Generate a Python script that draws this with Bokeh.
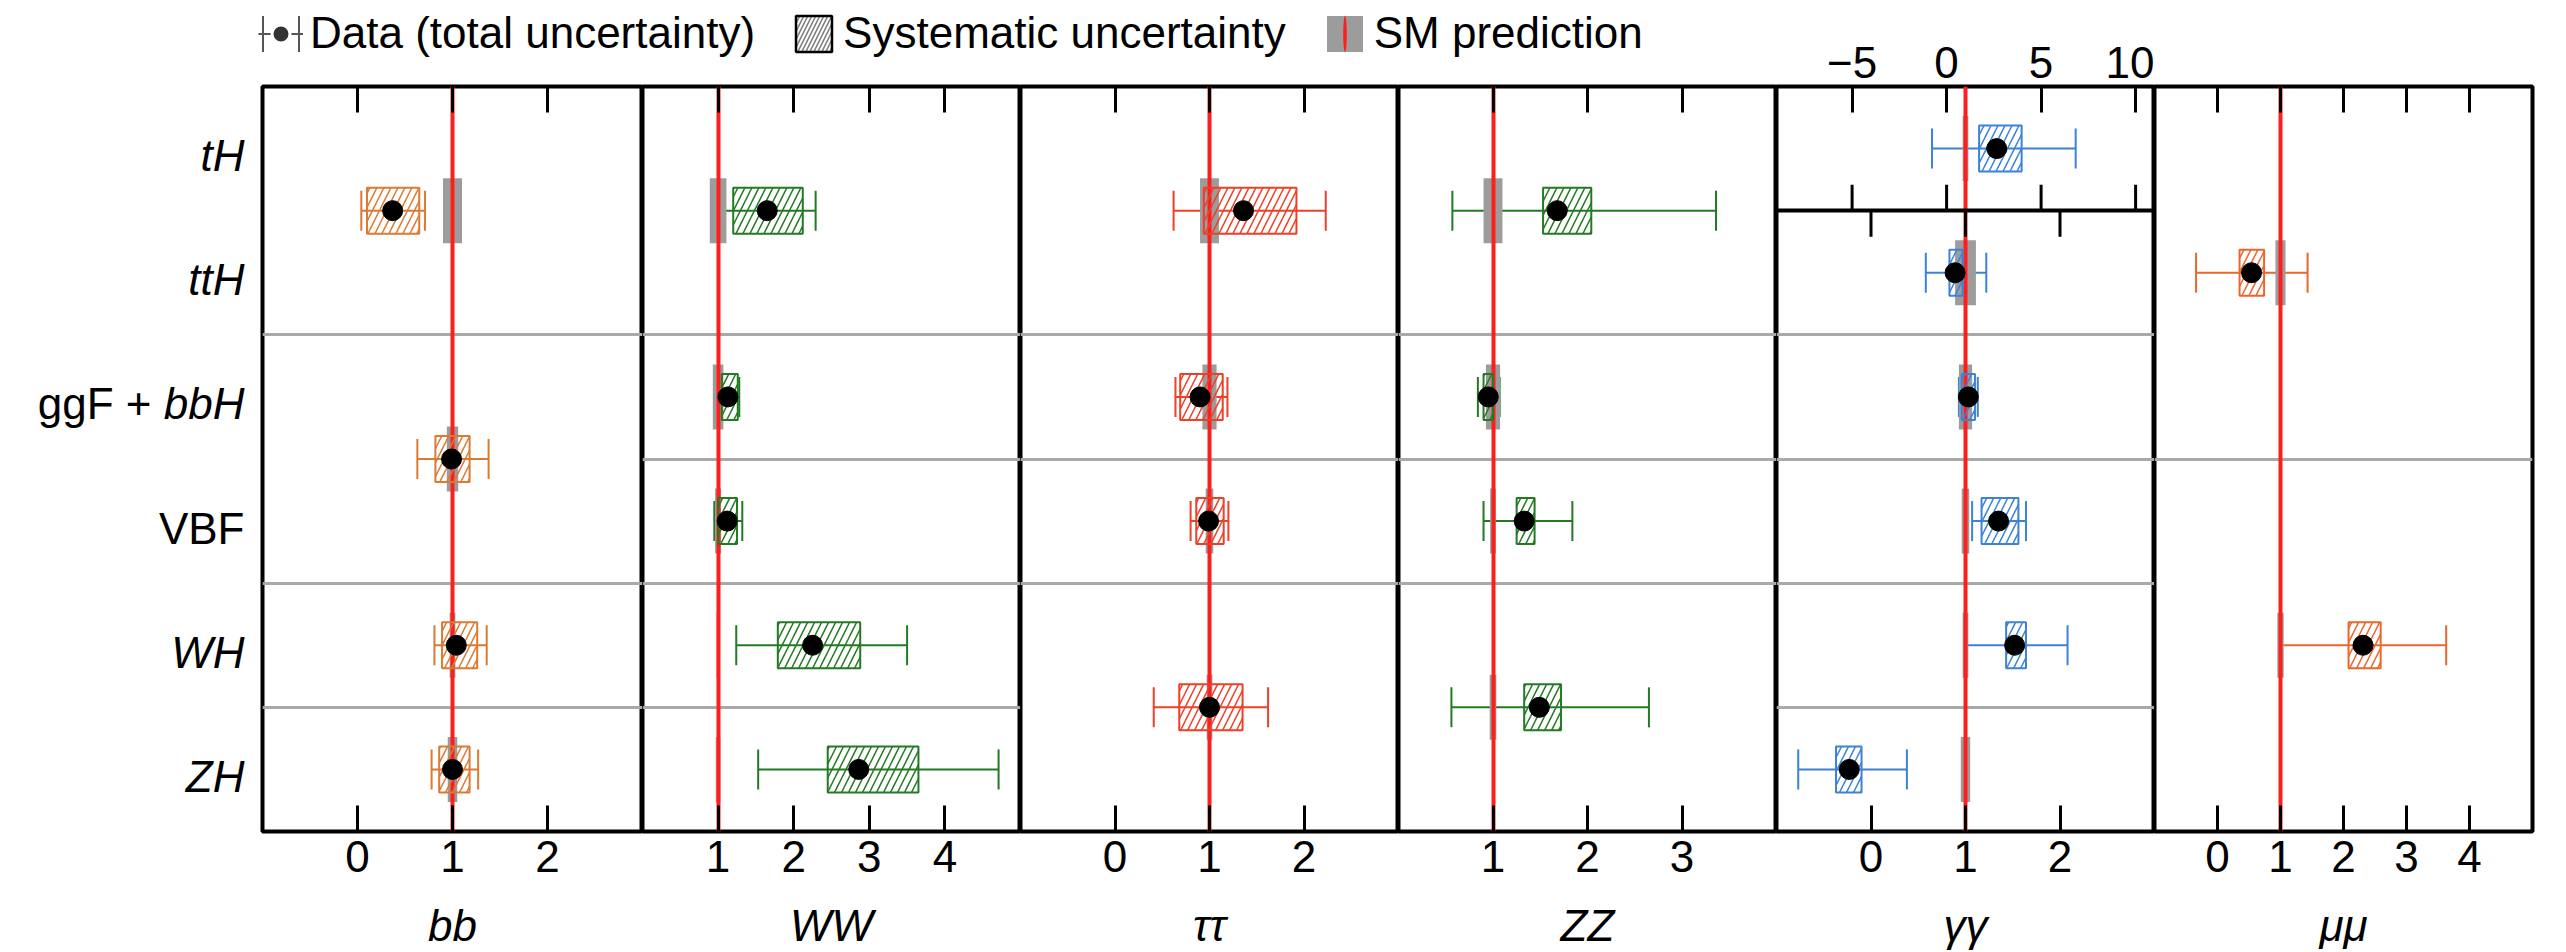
import math
from bokeh.plotting import figure
from bokeh.models import (ColumnDataSource, Range1d, FixedTicker, LinearAxis,
                          Legend, LegendItem)
from bokeh.layouts import row, column
from bokeh.embed import file_html
from bokeh.resources import INLINE
from bokeh.core.properties import value

# ---------------- data ----------------
ROWS = ["ZH", "WH", "VBF", "ggF+bbH", "ttH", "tH"]          # bottom -> top
ROW_LABEL_PARTS = [[("ZH", "italic")], [("WH", "italic")], [("VBF", "normal")],
                   [("ggF +", "normal"), ("bbH", "italic")],
                   [("ttH", "italic")], [("tH", "italic")]]
SM_MU = 1.0

BB_TITLE = "bb"
BB_RANGE = (-1, 3)
BB_TICKS = [0, 1, 2]
BB_GROUPS = [["tH", "ttH"], ["ggF+bbH", "VBF"], ["WH"], ["ZH"]]
BB_MU = [0.37, 0.99, 1.04, 1.00]
BB_TOT_DN = [0.33, 0.36, 0.23, 0.22]
BB_TOT_UP = [0.34, 0.39, 0.32, 0.27]
BB_SYS_DN = [0.27, 0.17, 0.15, 0.14]
BB_SYS_UP = [0.28, 0.19, 0.22, 0.18]
BB_SM_UNC = [0.10, 0.06, 0.03, 0.05]

WW_TITLE = "WW"
WW_RANGE = (0, 5)
WW_TICKS = [1, 2, 3, 4]
WW_GROUPS = [["tH", "ttH"], ["ggF+bbH"], ["VBF"], ["WH"], ["ZH"]]
WW_MU = [1.65, 1.13, 1.12, 2.25, 2.86]
WW_TOT_DN = [0.65, 0.11, 0.17, 1.01, 1.33]
WW_TOT_UP = [0.64, 0.15, 0.20, 1.25, 1.85]
WW_SYS_DN = [0.45, 0.08, 0.12, 0.46, 0.41]
WW_SYS_UP = [0.47, 0.13, 0.13, 0.63, 0.79]
WW_SM_UNC = [0.11, 0.07, 0.04, 0.02, 0.03]

TT_TITLE = "ττ"
TT_RANGE = (-1, 3)
TT_TICKS = [0, 1, 2]
TT_GROUPS = [["tH", "ttH"], ["ggF+bbH"], ["VBF"], ["WH", "ZH"]]
TT_MU = [1.36, 0.90, 0.99, 1.00]
TT_TOT_DN = [0.74, 0.26, 0.19, 0.59]
TT_TOT_UP = [0.87, 0.29, 0.21, 0.62]
TT_SYS_DN = [0.42, 0.21, 0.13, 0.32]
TT_SYS_UP = [0.56, 0.24, 0.16, 0.35]
TT_SM_UNC = [0.10, 0.075, 0.04, 0.03]

ZZ_TITLE = "ZZ"
ZZ_RANGE = (0, 4)
ZZ_TICKS = [1, 2, 3]
ZZ_GROUPS = [["tH", "ttH"], ["ggF+bbH"], ["VBF"], ["WH", "ZH"]]
ZZ_MU = [1.68, 0.95, 1.33, 1.49]
ZZ_TOT_DN = [1.11, 0.11, 0.43, 0.93]
ZZ_TOT_UP = [1.68, 0.12, 0.51, 1.16]
ZZ_SYS_DN = [0.15, 0.05, 0.08, 0.16]
ZZ_SYS_UP = [0.36, 0.05, 0.11, 0.23]
ZZ_SM_UNC = [0.10, 0.075, 0.03, 0.035]

GG_TITLE = "γγ"
GG_RANGE = (-1, 3)
GG_TICKS = [0, 1, 2]
GG_GROUPS = [["ttH"], ["ggF+bbH"], ["VBF"], ["WH"], ["ZH"]]
GG_MU = [0.89, 1.03, 1.35, 1.52, -0.23]
GG_TOT_DN = [0.31, 0.10, 0.28, 0.51, 0.54]
GG_TOT_UP = [0.33, 0.10, 0.29, 0.56, 0.61]
GG_SYS_DN = [0.06, 0.07, 0.18, 0.09, 0.14]
GG_SYS_UP = [0.08, 0.07, 0.21, 0.12, 0.13]
GG_SM_UNC = [0.11, 0.07, 0.04, 0.03, 0.05]
# tH row of the diphoton panel, on its own wider scale
GG_TH_RANGE = (-9, 11)
GG_TH_TICKS = [-5, 0, 5, 10]
GG_TH_GROUPS = [["tH"]]
GG_TH_MU = [2.65]
GG_TH_TOT_DN = [3.42]
GG_TH_TOT_UP = [4.18]
GG_TH_SYS_DN = [0.93]
GG_TH_SYS_UP = [1.32]
GG_TH_SM_UNC = [0.15]

MM_TITLE = "μμ"
MM_RANGE = (-1, 5)
MM_TICKS = [0, 1, 2, 3, 4]
MM_GROUPS = [["tH", "ttH", "ggF+bbH"], ["VBF", "WH", "ZH"]]
MM_MU = [0.54, 2.31]
MM_TOT_DN = [0.88, 1.30]
MM_TOT_UP = [0.89, 1.32]
MM_SYS_DN = [0.19, 0.23]
MM_SYS_UP = [0.20, 0.28]
MM_SM_UNC = [0.08, 0.05]

LEGEND_LABELS = ["Data (total uncertainty)", "Systematic uncertainty", "SM prediction"]

# ---------------- style ----------------
FONT = "Liberation Sans"
FS = "44px"
BB_COLOR = "#DA7A33"
WW_COLOR = "#237A23"
TT_COLOR = "#EC4128"
ZZ_COLOR = "#237A23"
GG_COLOR = "#3C82D6"
MM_COLOR = "#E9672C"
SM_RED = "#FF1E1E"
SM_GRAY = "#9C9C9C"
SEP_GRAY = "#A9A9A9"

H = 952
LEG_H = 62
TOP = 86
BOTTOM = 121
LABEL_W = 260
RIGHT = 34
FRAME_W = 378
BB_FRAME_W = 380
FRAME_H = H - TOP - BOTTOM
ROW_PX = FRAME_H / len(ROWS)
BOX_HALF = 23 / ROW_PX
BAR_HALF = 32.5 / ROW_PX
TICK_LEN = 26 / ROW_PX


def group_rows(groups):
    ys, bounds = [], set()
    for g in groups:
        idx = [ROWS.index(r) for r in g]
        lo, hi = min(idx), max(idx) + 1
        ys.append((lo + hi) / 2)
        if lo > 0:
            bounds.add(lo)
        if hi < len(ROWS):
            bounds.add(hi)
    return ys, sorted(bounds)


def make_source(groups, mu, tdn, tup, sdn, sup, smu):
    ys, _ = group_rows(groups)
    return ColumnDataSource(dict(
        y=ys, mu=mu,
        tlo=[m - d for m, d in zip(mu, tdn)], thi=[m + u for m, u in zip(mu, tup)],
        slo=[m - d for m, d in zip(mu, sdn)], shi=[m + u for m, u in zip(mu, sup)],
        smlo=[SM_MU - u for u in smu], smhi=[SM_MU + u for u in smu],
        bar0=[y - BAR_HALF for y in ys], bar1=[y + BAR_HALF for y in ys],
        box0=[y - BOX_HALF for y in ys], box1=[y + BOX_HALF for y in ys]))


def draw_under(p, src, color, rng="default"):
    p.segment(x0="tlo", y0="y", x1="thi", y1="y", source=src, line_color=color,
              line_width=2, x_range_name=rng)
    for col in ("tlo", "thi"):
        p.scatter(x=col, y="y", source=src, marker="dash", angle=math.pi / 2, size=40,
                  line_color=color, line_width=2, x_range_name=rng)
    p.quad(left="smlo", right="smhi", bottom="bar0", top="bar1", source=src,
           fill_color=SM_GRAY, line_color=None, x_range_name=rng)


def draw_over(p, src, color, rng="default"):
    p.quad(left="slo", right="shi", bottom="box0", top="box1", source=src,
           fill_color=None, line_color=color, line_width=2, hatch_pattern="/",
           hatch_color=color, hatch_scale=14, hatch_weight=1.5, x_range_name=rng)
    p.scatter(x="mu", y="y", source=src, marker="circle", size=20,
              fill_color="black", line_color="black", x_range_name=rng)


def style_axis(ax, ticks, show_labels=True):
    ax.ticker = FixedTicker(ticks=ticks)
    ax.major_tick_in = 26
    ax.major_tick_out = 0
    ax.major_tick_line_width = 3
    ax.major_tick_line_color = "black"
    ax.minor_tick_line_color = None
    ax.axis_line_color = None
    ax.major_label_text_font = FONT
    if show_labels:
        ax.major_label_text_font_size = FS
        ax.major_label_text_color = "black"
        ax.major_label_standoff = 9
    else:
        ax.major_label_text_font_size = "1px"
        ax.major_label_text_color = None
        ax.major_label_standoff = 0


def make_panel(title, xrange, ticks, width, height, border_top, border_left=0,
               border_right=0, mirror_top=True):
    p = figure(width=width, height=height, x_range=Range1d(*xrange),
               y_range=Range1d(0, len(ROWS)), output_backend="svg",
               toolbar_location=None, y_axis_location=None,
               min_border_left=border_left, min_border_right=border_right,
               min_border_top=border_top, min_border_bottom=BOTTOM)
    p.grid.visible = False
    p.outline_line_color = "black"
    p.outline_line_width = 4
    p.background_fill_color = "white"
    p.border_fill_color = "white"
    ax = p.xaxis[0]
    style_axis(ax, ticks)
    ax.axis_label = title
    ax.axis_label_text_font = FONT
    ax.axis_label_text_font_size = FS
    ax.axis_label_text_font_style = "italic"
    ax.axis_label_text_color = "black"
    ax.axis_label_standoff = 26
    if mirror_top:
        top = LinearAxis()
        style_axis(top, ticks, show_labels=False)
        p.add_layout(top, "above")
    return p


def standard_panel(p, groups, mu, tdn, tup, sdn, sup, smu, color):
    _, bounds = group_rows(groups)
    p.hspan(y=bounds, line_color=SEP_GRAY, line_width=3)
    src = make_source(groups, mu, tdn, tup, sdn, sup, smu)
    draw_under(p, src, color)
    p.vspan(x=[SM_MU], line_color=SM_RED, line_width=4)
    draw_over(p, src, color)


PANEL_H = H - LEG_H

# ---------------- row labels (own figure, same rows) ----------------
f_lab = figure(width=LABEL_W, height=PANEL_H, x_range=Range1d(0, 1),
               y_range=Range1d(0, len(ROWS)), output_backend="svg",
               toolbar_location=None, x_axis_location=None, y_axis_location=None,
               min_border_left=0, min_border_right=0, min_border_top=TOP - LEG_H,
               min_border_bottom=BOTTOM)
f_lab.grid.visible = False
f_lab.outline_line_color = None
lab = dict(x=[], y=[], text=[], style=[], xoff=[])
PART_GAP = {"bbH": 93}
for i, parts in enumerate(ROW_LABEL_PARTS):
    offset = -16
    for text, style in reversed(parts):
        lab["x"].append(1)
        lab["y"].append(i + 0.5)
        lab["text"].append(text)
        lab["style"].append(style)
        lab["xoff"].append(offset)
        offset -= PART_GAP.get(text, 0)
f_lab.text(x="x", y="y", text="text", x_offset="xoff", y_offset=7,
           text_font_style="style", source=ColumnDataSource(lab), text_align="right",
           text_baseline="middle", text_font=value(FONT), text_font_size=value(FS),
           text_color="black")

f_bb = make_panel(BB_TITLE, BB_RANGE, BB_TICKS, 2 + BB_FRAME_W, PANEL_H, TOP - LEG_H,
                  border_left=2)
standard_panel(f_bb, BB_GROUPS, BB_MU, BB_TOT_DN, BB_TOT_UP, BB_SYS_DN, BB_SYS_UP,
               BB_SM_UNC, BB_COLOR)
f_ww = make_panel(WW_TITLE, WW_RANGE, WW_TICKS, FRAME_W, PANEL_H, TOP - LEG_H)
standard_panel(f_ww, WW_GROUPS, WW_MU, WW_TOT_DN, WW_TOT_UP, WW_SYS_DN, WW_SYS_UP,
               WW_SM_UNC, WW_COLOR)
f_tt = make_panel(TT_TITLE, TT_RANGE, TT_TICKS, FRAME_W, PANEL_H, TOP - LEG_H)
standard_panel(f_tt, TT_GROUPS, TT_MU, TT_TOT_DN, TT_TOT_UP, TT_SYS_DN, TT_SYS_UP,
               TT_SM_UNC, TT_COLOR)
f_zz = make_panel(ZZ_TITLE, ZZ_RANGE, ZZ_TICKS, FRAME_W, PANEL_H, TOP - LEG_H)
standard_panel(f_zz, ZZ_GROUPS, ZZ_MU, ZZ_TOT_DN, ZZ_TOT_UP, ZZ_SYS_DN, ZZ_SYS_UP,
               ZZ_SM_UNC, ZZ_COLOR)

# diphoton panel with its tH sub-panel
f_gg = make_panel(GG_TITLE, GG_RANGE, GG_TICKS, FRAME_W, H, TOP, mirror_top=False)
f_gg.extra_x_ranges = {"th": Range1d(*GG_TH_RANGE)}
gg_top = LinearAxis(x_range_name="th")
style_axis(gg_top, GG_TH_TICKS)
gg_top.major_label_overrides = {-5: "−5"}
f_gg.add_layout(gg_top, "above")
_, gg_bounds = group_rows(GG_TH_GROUPS + GG_GROUPS)
th_edge = ROWS.index("tH")
f_gg.hspan(y=[b for b in gg_bounds if b != th_edge], line_color=SEP_GRAY, line_width=3)
gg_th_src = make_source(GG_TH_GROUPS, GG_TH_MU, GG_TH_TOT_DN, GG_TH_TOT_UP,
                        GG_TH_SYS_DN, GG_TH_SYS_UP, GG_TH_SM_UNC)
gg_src = make_source(GG_GROUPS, GG_MU, GG_TOT_DN, GG_TOT_UP, GG_SYS_DN, GG_SYS_UP,
                     GG_SM_UNC)
draw_under(f_gg, gg_th_src, GG_COLOR, rng="th")
draw_under(f_gg, gg_src, GG_COLOR)
f_gg.vspan(x=[SM_MU], line_color=SM_RED, line_width=4)
draw_over(f_gg, gg_src, GG_COLOR)
draw_over(f_gg, gg_th_src, GG_COLOR, rng="th")
f_gg.hspan(y=[th_edge], line_color="black", line_width=4)
f_gg.segment(x0=GG_TH_TICKS, x1=GG_TH_TICKS, y0=[th_edge] * len(GG_TH_TICKS),
             y1=[th_edge + TICK_LEN] * len(GG_TH_TICKS), line_color="black",
             line_width=3, x_range_name="th")
f_gg.segment(x0=GG_TICKS, x1=GG_TICKS, y0=[th_edge] * len(GG_TICKS),
             y1=[th_edge - TICK_LEN] * len(GG_TICKS), line_color="black", line_width=3)

f_mm = make_panel(MM_TITLE, MM_RANGE, MM_TICKS, FRAME_W + RIGHT, H, TOP,
                  border_right=RIGHT)
standard_panel(f_mm, MM_GROUPS, MM_MU, MM_TOT_DN, MM_TOT_UP, MM_SYS_DN, MM_SYS_UP,
               MM_SM_UNC, MM_COLOR)

# ---------------- legend ----------------
LEFT_W = LABEL_W + 2 + BB_FRAME_W + 3 * FRAME_W
leg = figure(width=LEFT_W, height=LEG_H, x_range=Range1d(0, 1), y_range=Range1d(0, 1),
             output_backend="svg", toolbar_location=None, x_axis_location=None,
             y_axis_location=None, min_border=0)
leg.grid.visible = False
leg.outline_line_color = None
nan = float("nan")
GW = 45
inner = int(GW * 0.8)
r_line = leg.segment(x0=[nan], y0=[nan], x1=[nan], y1=[nan], line_color="#555555",
                     line_width=2)
r_caps = leg.quad(left=[nan], right=[nan], top=[nan], bottom=[nan], fill_color=None,
                  line_color="#555555", line_width=2,
                  line_dash=f"0 {inner} {inner} {inner} {inner}")
r_dot = leg.scatter(x=[nan], y=[nan], marker="circle", fill_color="#333333",
                    line_color="white", line_width=3)
r_sys = leg.quad(left=[nan], right=[nan], top=[nan], bottom=[nan], fill_color="white",
                 hatch_pattern="/", hatch_color="#7A7A7A", hatch_scale=8,
                 hatch_weight=1.5, line_color="black", line_width=2.5)
r_smbox = leg.quad(left=[nan], right=[nan], top=[nan], bottom=[nan],
                   fill_color=SM_GRAY, line_color=None)
# thin tall ellipse (kept outside the visible range) -> vertical red bar in the key
r_smline = leg.ellipse(x=[5], y=[5], width=4, height=40, width_units="screen",
                       height_units="screen", fill_color=SM_RED, line_color=None)
legend = Legend(items=[
    LegendItem(label=LEGEND_LABELS[0], renderers=[r_line, r_caps, r_dot]),
    LegendItem(label=LEGEND_LABELS[1], renderers=[r_sys]),
    LegendItem(label=LEGEND_LABELS[2], renderers=[r_smbox, r_smline])],
    orientation="horizontal", location=(258, 4), glyph_width=GW, glyph_height=GW,
    label_standoff=7, spacing=36, padding=0, margin=0, border_line_color=None,
    background_fill_alpha=0, label_text_font=FONT, label_text_font_size=FS,
    label_text_color="black")
leg.add_layout(legend)

layout = row(column(leg, row(f_lab, f_bb, f_ww, f_tt, f_zz)), f_gg, f_mm)

with open("out.html", "w") as fh:
    fh.write(file_html(layout, INLINE))
